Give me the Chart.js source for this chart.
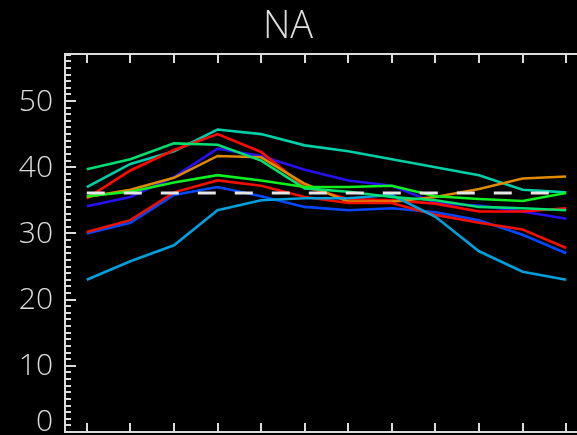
<!DOCTYPE html>
<html>
<head>
<meta charset="utf-8">
<script src="https://cdn.jsdelivr.net/npm/chart.js@4.4.1/dist/chart.umd.min.js"></script>
<style>
  html, body { margin: 0; padding: 0; background: #000; overflow: hidden; width: 577px; height: 435px; }
  #wrap { position: absolute; left: 0; top: 0; width: 600px; height: 440px; }
  canvas { display: block; }
</style>
</head>
<body>
<div id="wrap"><canvas id="c" width="600" height="440"></canvas></div>
<script>
// Panel title
const panelTitle = 'NA';

// Month index along the x axis
const months = [1, 2, 3, 4, 5, 6, 7, 8, 9, 10, 11, 12];

// Labelled y ticks
const yTickLabels = [0, 10, 20, 30, 40, 50];

// Monthly series
const tealSeries   = [37.0, 40.5, 42.4, 45.7, 45.0, 43.3, 42.4, 41.2, 40.0, 38.8, 36.6, 36.2];
const springSeries = [39.7, 41.2, 43.6, 43.4, 41.0, 36.8, 36.3, 35.5, 35.0, 34.0, 33.8, 33.5];
const orangeSeries = [35.5, 36.6, 38.4, 41.7, 41.5, 37.5, 34.8, 34.8, 35.5, 36.7, 38.3, 38.6];
const indigoSeries = [34.1, 35.5, 38.5, 42.8, 41.7, 39.6, 38.0, 37.2, 34.6, 34.2, 33.3, 32.2];
const redASeries   = [35.3, 39.5, 42.6, 45.0, 42.3, 37.0, 35.2, 35.0, 34.5, 33.3, 33.3, 33.8];
const greenSeries  = [35.6, 36.3, 37.7, 38.8, 38.0, 37.0, 37.0, 37.2, 35.6, 35.2, 34.9, 36.1];
const redESeries   = [30.2, 32.0, 36.2, 38.0, 37.2, 35.5, 34.6, 34.6, 32.8, 31.6, 30.6, 27.8];
const blueSeries   = [30.0, 31.6, 35.8, 37.0, 35.6, 34.0, 33.5, 33.8, 33.2, 32.0, 29.8, 27.0];
const skySeries    = [23.0, 25.8, 28.2, 33.5, 35.0, 35.3, 35.3, 35.8, 32.5, 27.3, 24.2, 23.0];
const meanLevel    = [36.1, 36.1, 36.1, 36.1, 36.1, 36.1, 36.1, 36.1, 36.1, 36.1, 36.1, 36.1];

const Y_MAX = 57.1;

const toPoints = vals => months.map((m, i) => ({ x: m, y: vals[i] }));

const lineSpecs = [
  { data: meanLevel,    color: '#e6e6e6', dash: [18, 19], width: 3 },
  { data: greenSeries,  color: '#10f020' },
  { data: springSeries, color: '#00e070' },
  { data: skySeries,    color: '#00a0dc' },
  { data: redESeries,   color: '#f01000' },
  { data: blueSeries,   color: '#0048ff' },
  { data: orangeSeries, color: '#e08a00' },
  { data: redASeries,   color: '#ff0a00' },
  { data: indigoSeries, color: '#2810f0' },
  { data: tealSeries,   color: '#00d0a8' }
];

const datasets = lineSpecs.map(s => ({
  data: toPoints(s.data),
  borderColor: s.color,
  borderWidth: s.width || 2.6,
  borderDash: s.dash || [],
  pointRadius: 0,
  tension: 0,
  fill: false
}));

const AXIS_COLOR = '#dcdcdc';
const LABEL_FONT = "300 30px 'Open Sans'";

// Box axes with inward ticks on all four sides
const boxAxes = {
  id: 'boxAxes',
  afterDraw(chart) {
    const { ctx, chartArea: a, scales: { x, y } } = chart;
    ctx.save();
    ctx.strokeStyle = AXIS_COLOR;
    ctx.lineWidth = 2;
    ctx.strokeRect(a.left, a.top, a.right - a.left, a.bottom - a.top);

    ctx.beginPath();
    months.forEach(m => {
      const px = Math.round(x.getPixelForValue(m));
      ctx.moveTo(px, a.bottom); ctx.lineTo(px, a.bottom - 9);
      ctx.moveTo(px, a.top);    ctx.lineTo(px, a.top + 9);
    });
    for (let v = 0; v <= Math.floor(Y_MAX); v++) {
      const py = Math.round(y.getPixelForValue(v));
      const len = v % 10 === 0 ? 11 : 6;
      ctx.moveTo(a.left, py);  ctx.lineTo(a.left + len, py);
      ctx.moveTo(a.right, py); ctx.lineTo(a.right - len, py);
    }
    ctx.stroke();

    ctx.fillStyle = AXIS_COLOR;
    ctx.font = LABEL_FONT;
    ctx.textAlign = 'right';
    ctx.textBaseline = 'middle';
    yTickLabels.forEach(v => {
      let py = y.getPixelForValue(v);
      py = Math.min(py, a.bottom - 11);
      ctx.fillText(String(v), a.left - 12, py + 1);
    });

    ctx.font = "300 38px 'Open Sans'";
    ctx.textAlign = 'center';
    ctx.fillText(panelTitle, 288, 27);
    ctx.restore();
  }
};

new Chart(document.getElementById('c'), {
  type: 'line',
  data: { datasets },
  options: {
    responsive: false,
    animation: false,
    layout: { padding: { left: 65, top: 54, right: 12, bottom: 8 } },
    plugins: { legend: { display: false }, tooltip: { enabled: false }, title: { display: false } },
    scales: {
      x: { type: 'linear', min: 0.5, max: 12.5, display: false },
      y: { type: 'linear', min: 0, max: Y_MAX, display: false }
    }
  },
  plugins: [boxAxes]
});
</script>
</body>
</html>
